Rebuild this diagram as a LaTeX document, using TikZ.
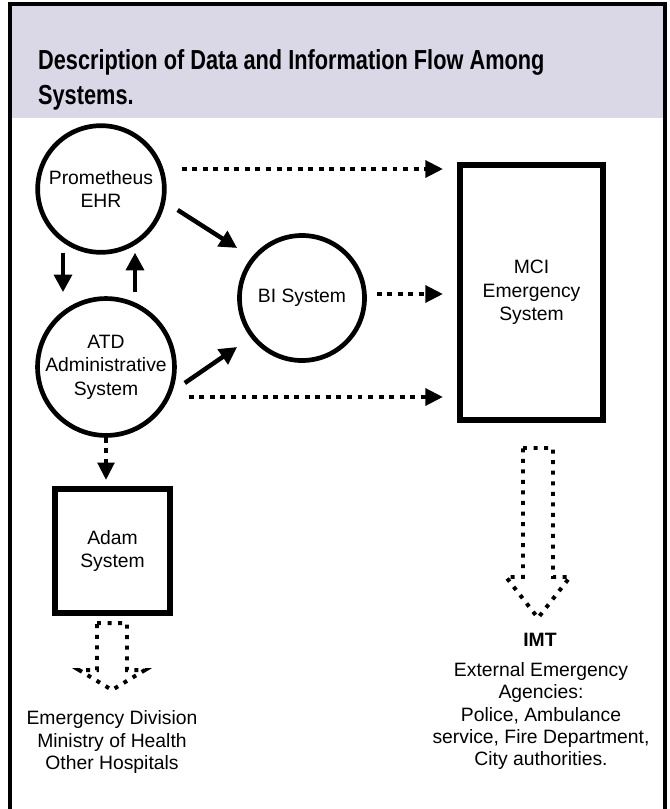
\documentclass[tikz,border=0pt]{standalone}
\usepackage{fontspec}
\setmainfont{Liberation Sans}
\newfontfamily\titlefont[FakeStretch=0.79]{Liberation Sans}
\usetikzlibrary{arrows.meta,calc}
\definecolor{headgray}{RGB}{218,216,230}

\tikzset{
  sys/.style={circle,draw,line width=4pt,minimum size=3.8cm,inner sep=0pt,
    align=center,font=\fontsize{16.5}{20}\selectfont},
  sysbox/.style={rectangle,draw,line width=5pt,inner sep=0pt,
    align=center,font=\fontsize{16.5}{20}\selectfont},
  flow/.style={line width=3.8pt,-{Triangle[length=15pt,width=15pt]}},
  dotflow/.style={line width=4.2pt,dash pattern=on 4.2pt off 4.8pt,
    -{Triangle[length=15pt,width=14pt]}},
  hollow/.style={line width=3.4pt,dash pattern=on 3.4pt off 5.6pt},
  lbl/.style={align=center,font=\fontsize{16.5}{18.8}\selectfont}
}

\begin{document}
\begin{tikzpicture}[x=0.03cm,y=-0.03cm]
    \useasboundingbox (0,0) rectangle (670,809);
    % Frame and header
    \fill[headgray] (10,4) rectangle (665,118);
    \draw[line width=3.4pt] (10,809) -- (10,4) -- (665,4) -- (665,809);
    \node[anchor=west,align=left,font=\titlefont\bfseries\fontsize{23.5}{30}\selectfont]
      (title) at (34,80) {Description of Data and Information Flow Among\\Systems.};
    % Systems
    \node[sys] (prom) at (101,189) {Prometheus\\EHR};
    \node[sys] (atd) at (106,367) {ATD\\Administrative\\System};
    \node[sys,minimum size=3.75cm] (bi) at (302,298) {BI System};
    \node[sysbox,minimum width=4.29cm,minimum height=7.65cm] (mci) at (531.5,292.5)
      {MCI\\Emergency\\System};
    \node[sysbox,minimum width=3.45cm,minimum height=3.72cm] (adam) at (112.5,551)
      {Adam\\System};
    % Solid flows
    \draw[flow] ($(prom.south)+(-38,-2)$) -- ($(atd.north)+(-43,-4)$);
    \draw[flow] ($(atd.north)+(29,-4)$) -- ($(prom.south)+(34,-2)$);
    \draw[flow] ($(prom.east)+(11,21)$) -- ($(bi.west)+(0,-50)$);
    \draw[flow] ($(atd.east)+(8,16)$) -- ($(bi.west)+(0,49)$);
    % Dotted flows
    \draw[dotflow] ($(prom.east)+(15,-20)$) -- ($(mci.west |- prom.east)+(-14,-20)$);
    \draw[dotflow] ($(bi.east)+(10,-4)$) -- ($(mci.west |- bi.east)+(-14,-4)$);
    \draw[dotflow] ($(atd.east)+(12,30)$) -- ($(mci.west |- atd.east)+(-14,30)$);
    \draw[dotflow] (atd.south) -- ($(atd.south |- adam.north)+(0,-6)$);
    % Hollow arrows
    \draw[hollow] (523,448) -- (553,448) -- (553,577) -- (570,577) -- (538,618)
      -- (506,577) -- (523,577) -- cycle;
    \draw[hollow] (97,623) -- (127,623) -- (127,670) -- (145,670) -- (112,690)
      -- (79,670) -- (97,670) -- cycle;
    % Receivers
    \node[lbl,font=\fontsize{16.5}{19}\selectfont\bfseries] (imt) at (540,640) {IMT};
    \node[lbl] (ext) at (541,716) {External Emergency\\Agencies:\\Police, Ambulance\\service, Fire Department,\\City authorities.};
    \node[lbl] (edv) at (112,742) {Emergency Division\\Ministry of Health\\Other Hospitals};
\end{tikzpicture}
\end{document}
